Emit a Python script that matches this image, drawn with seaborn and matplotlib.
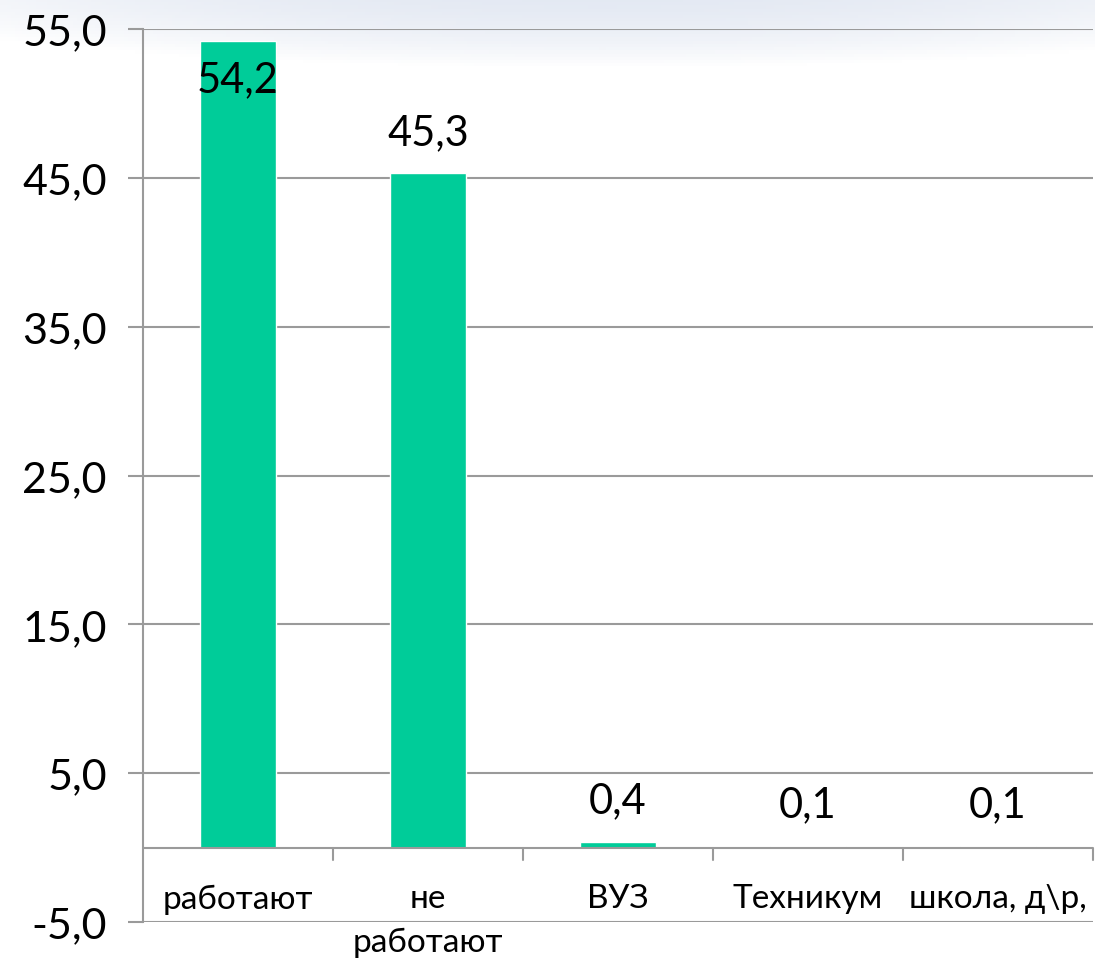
import numpy as np
import pandas as pd
import matplotlib
matplotlib.use("Agg")
import matplotlib.pyplot as plt
import seaborn as sns

# data
categories = ["работают", "не\nработают", "ВУЗ", "Техникум", "школа, д\\р,"]
values = [54.2, 45.3, 0.4, 0.1, 0.1]
value_labels = ["54,2", "45,3", "0,4", "0,1", "0,1"]
yticks = [-5, 5, 15, 25, 35, 45, 55]

sns.set_theme(style="white")
plt.rcParams['font.family'] = ['Lato', 'DejaVu Sans']

bar_color = "#00cc99"
grid_color = "#9a9a9a"

df = pd.DataFrame({"cat": categories, "val": values})

fig = plt.figure(figsize=(10.95, 9.62), dpi=100)

# faint wash at the top of the slide
bg = fig.add_axes([0, 0, 1, 1], zorder=-5)
yy, xx = np.mgrid[0:1:300j, 0:1:300j]
wash = np.clip(1 - ((xx - 0.55) / 0.75) ** 2 - ((yy - 1.02) / 0.09) ** 2, 0, 1)
rgba = np.zeros((300, 300, 4))
rgba[..., 0] = 0.86
rgba[..., 1] = 0.89
rgba[..., 2] = 0.94
rgba[..., 3] = wash * 0.8
bg.imshow(rgba, extent=[0, 1, 0, 1], origin="lower", aspect="auto")
bg.axis("off")

ax = fig.add_axes([0.1306, 0.0405, 0.8674, 0.9283])
ax.patch.set_alpha(0)
sns.barplot(data=df, x="cat", y="val", color=bar_color, saturation=1,
            width=0.4, ax=ax, zorder=3)

ax.set_ylim(-5, 55)
ax.set_xlim(-0.5, len(categories) - 0.5)
ax.set_yticks(yticks)
ax.set_yticklabels([f"{t:.1f}".replace(".", ",") for t in yticks],
                   fontsize=31, color="black")
for t in yticks:
    ax.axhline(t, color=grid_color, lw=1.5, zorder=1)
ax.tick_params(axis="y", length=11, width=1.5, color=grid_color, pad=15,
               left=True)

# category axis at zero
ax.axhline(0, color=grid_color, lw=1.5, zorder=4)
ax.set_xticks([])
ax.set_xlabel("")
ax.set_ylabel("")
for b in np.arange(0.5, len(categories), 1.0):
    ax.plot([b, b], [0, -0.8], color=grid_color, lw=1.5, clip_on=False, zorder=4)

for i, c in enumerate(categories):
    ax.text(i, -2.4, c, ha="center", va="top", fontsize=24, color="black",
            linespacing=1.55, clip_on=False)

for i, (v, lab) in enumerate(zip(values, value_labels)):
    if v > 50:
        ax.text(i, v - 2.6, lab, ha="center", va="center", fontsize=30,
                color="black", zorder=5)
    else:
        ax.text(i, v + 2.8, lab, ha="center", va="center", fontsize=30,
                color="black", zorder=5)

for s in ["top", "right", "bottom"]:
    ax.spines[s].set_visible(False)
ax.spines["left"].set_color(grid_color)
ax.spines["left"].set_linewidth(1.5)

fig.savefig("out.png", dpi=100)
